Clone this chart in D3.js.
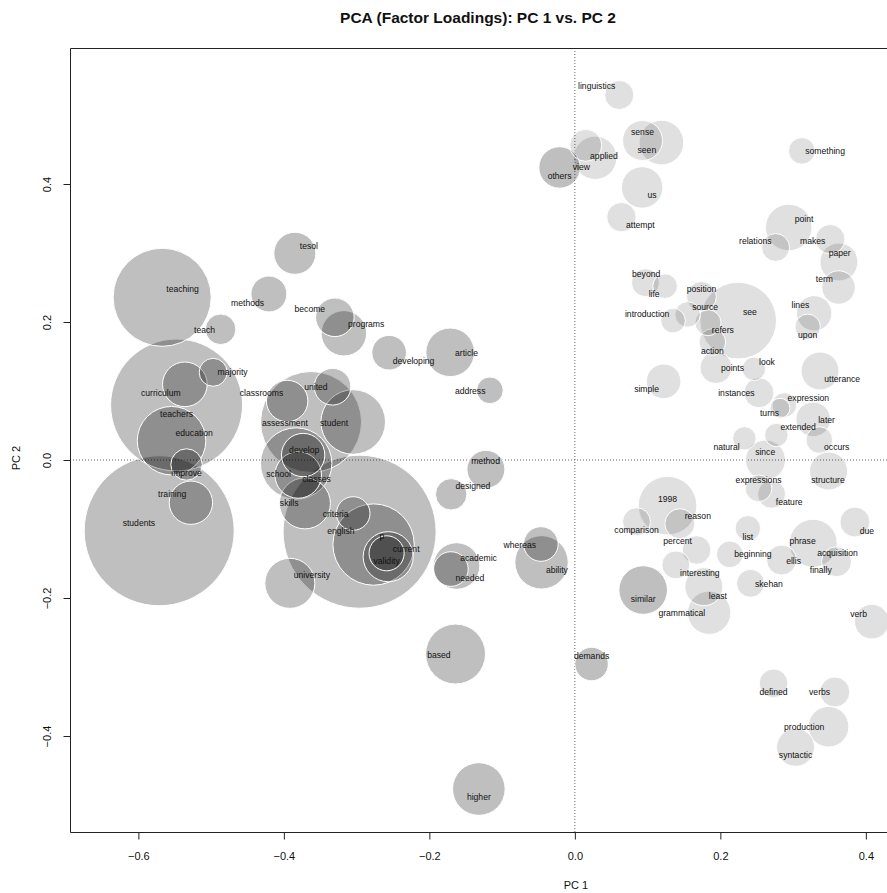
<!DOCTYPE html>
<html>
<head>
<meta charset="utf-8">
<script src="https://cdn.jsdelivr.net/npm/d3@7"></script>
<style>
  html, body { margin: 0; padding: 0; background: #fff; }
  svg { display: block; font-family: "Liberation Sans", Arial, Helvetica, sans-serif; }
</style>
</head>
<body>
<svg id="chart" width="887" height="893"></svg>
<script>
// Term loadings on the first two principal components.
const words = ["linguistics","sense","seen","applied","view","others","us","attempt","something","point","relations","makes","paper","term","beyond","life","position","source","introduction","see","refers","action","lines","upon","points","look","utterance","simple","instances","expression","turns","later","extended","occurs","natural","since","structure","expressions","feature","1998","reason","comparison","percent","list","beginning","phrase","ellis","acquisition","finally","due","interesting","least","similar","grammatical","skehan","verb","demands","defined","verbs","production","syntactic","tesol","teaching","methods","become","programs","teach","developing","article","address","majority","curriculum","teachers","education","improve","training","students","classrooms","united","assessment","student","develop","school","classes","skills","criteria","english","p","validity","current","university","method","designed","academic","needed","whereas","ability","based","higher"];

// Loading on PC 1 (bubble centre)
const pc1 = [0.061,0.093,0.119,0.028,0.015,-0.021,0.0925,0.064,0.312,0.294,0.276,0.351,0.363,0.3625,0.097,0.124,0.174,0.155,0.135,0.2245,0.183,0.189,0.329,0.320,0.194,0.246,0.337,0.122,0.253,0.288,0.282,0.3276,0.277,0.336,0.233,0.262,0.3487,0.2525,0.2704,0.1274,0.1443,0.0848,0.1673,0.2378,0.213,0.3276,0.2841,0.3597,0.338,0.385,0.1388,0.1773,0.0939,0.1846,0.2415,0.4082,0.023,0.2731,0.3574,0.3487,0.3034,-0.3849,-0.5673,-0.4206,-0.3299,-0.3175,-0.487,-0.2553,-0.1714,-0.1168,-0.4972,-0.5361,-0.5475,-0.5544,-0.5338,-0.5278,-0.5714,-0.3955,-0.3331,-0.3626,-0.3047,-0.3735,-0.3831,-0.3803,-0.3711,-0.3047,-0.2959,-0.2767,-0.2566,-0.2588,-0.3918,-0.1223,-0.17,-0.1626,-0.1704,-0.0467,-0.0458,-0.164,-0.132];

// Loading on PC 2 (bubble centre)
const pc2 = [0.529,0.463,0.460,0.438,0.456,0.424,0.395,0.352,0.448,0.337,0.308,0.320,0.287,0.250,0.257,0.252,0.237,0.211,0.202,0.202,0.199,0.171,0.2126,0.193,0.134,0.132,0.129,0.114,0.0975,0.0797,0.075,0.059,0.0362,0.029,0.0314,0.0,-0.016,-0.041,-0.0497,-0.0662,-0.0923,-0.0894,-0.1304,-0.099,-0.1367,-0.1207,-0.145,-0.1474,-0.159,-0.0899,-0.152,-0.1836,-0.1884,-0.2213,-0.1787,-0.2343,-0.2957,-0.3236,-0.3362,-0.3865,-0.4164,0.2996,0.2358,0.2406,0.2068,0.1836,0.1894,0.1555,0.1561,0.101,0.1271,0.1097,0.0797,0.028,-0.0065,-0.0619,-0.1025,0.0855,0.1062,0.0551,0.0551,0.0072,-0.0051,-0.0217,-0.0628,-0.0775,-0.1039,-0.1225,-0.1401,-0.1352,-0.1787,-0.0135,-0.0497,-0.1536,-0.158,-0.1217,-0.1483,-0.2812,-0.4768];

// Bubble radius, in PC 1 units
const weight = [0.020,0.0275,0.0307,0.0298,0.022,0.0285,0.0285,0.0202,0.0183,0.032,0.0192,0.0202,0.0261,0.023,0.0192,0.0169,0.0206,0.0175,0.0169,0.0527,0.0179,0.0183,0.0243,0.0175,0.022,0.0161,0.0261,0.0238,0.0206,0.0169,0.0137,0.0238,0.0161,0.0183,0.0161,0.0275,0.0261,0.0183,0.0192,0.0403,0.0206,0.0192,0.0197,0.0175,0.0183,0.033,0.0206,0.0206,0,0.0206,0.0192,0.0261,0.0334,0.0298,0.0192,0.0238,0.023,0.0197,0.0206,0.0279,0.0261,0.0289,0.0674,0.0247,0.0265,0.0312,0.021,0.0238,0.0334,0.0183,0.0192,0.0307,0.0907,0.0471,0.0216,0.0298,0.1031,0.0285,0.0252,0.0694,0.0444,0.0298,0.0491,0.032,0.0351,0.0231,0.1052,0.0559,0.0344,0.0241,0.0344,0.0261,0.0216,0.032,0.0238,0.0238,0.0367,0.0412,0.0362];

// Where each word label sits, in loading units
const labelPC1 = [0.030,0.093,0.099,0.040,0.009,-0.021,0.106,0.090,0.344,0.315,0.248,0.327,0.364,0.343,0.098,0.109,0.174,0.179,0.0994,0.2406,0.2034,0.189,0.310,0.320,0.2168,0.264,0.3675,0.0986,0.222,0.321,0.2676,0.346,0.307,0.360,0.2085,0.2616,0.348,0.2525,0.2946,0.1274,0.169,0.0848,0.1412,0.2378,0.2447,0.313,0.3006,0.3611,0.338,0.4014,0.1718,0.1966,0.0939,0.1471,0.2667,0.39,0.023,0.2731,0.3364,0.3152,0.3034,-0.3656,-0.5393,-0.4499,-0.3643,-0.2869,-0.509,-0.2217,-0.1489,-0.1439,-0.4705,-0.5691,-0.5475,-0.5233,-0.5338,-0.5535,-0.5993,-0.4307,-0.356,-0.3986,-0.3309,-0.3721,-0.4073,-0.3551,-0.3927,-0.3289,-0.3216,-0.2653,-0.2588,-0.2319,-0.3615,-0.1227,-0.1402,-0.1324,-0.1443,-0.0756,-0.0247,-0.1869,-0.132];
const labelPC2 = [0.542,0.475,0.449,0.441,0.425,0.411,0.384,0.341,0.448,0.349,0.317,0.318,0.300,0.262,0.270,0.240,0.248,0.222,0.212,0.2145,0.189,0.158,0.224,0.1816,0.1333,0.142,0.117,0.1025,0.097,0.0899,0.0677,0.0584,0.0478,0.0184,0.0193,0.0116,-0.029,-0.0286,-0.0609,-0.0565,-0.0807,-0.101,-0.1174,-0.112,-0.1362,-0.1174,-0.1464,-0.1343,-0.16,-0.103,-0.164,-0.1967,-0.2014,-0.2217,-0.1801,-0.2228,-0.2836,-0.3367,-0.3367,-0.3865,-0.428,0.3106,0.2478,0.228,0.2188,0.1971,0.1888,0.1439,0.1551,0.1,0.1271,0.0967,0.0667,0.0387,-0.0184,-0.0493,-0.0913,0.0967,0.1062,0.0536,0.0541,0.0145,-0.0203,-0.028,-0.0628,-0.0783,-0.1029,-0.1097,-0.1459,-0.129,-0.1667,-0.0019,-0.0372,-0.142,-0.171,-0.1236,-0.1599,-0.2822,-0.4884];

// Cluster membership of each word
const cluster = words.map((w, i) => (i >= 61 || w === "others" || w === "similar" || w === "demands") ? 1 : 2);

const xTicks = [-0.6, -0.4, -0.2, 0.0, 0.2, 0.4];
const yTicks = [-0.4, -0.2, 0.0, 0.2, 0.4];

(function draw() {
  const svg = d3.select("#chart");
  const pLeft = 70, pRight = 886, pTop = 48, pBottom = 832;

  const x = d3.scaleLinear().domain([-0.694, 0.4277]).range([pLeft, pRight]);
  const y = d3.scaleLinear().domain([-0.5391, 0.5971]).range([pBottom, pTop]);
  const radius = v => Math.abs(x(v) - x(0));

  const fillFor = { 1: "rgba(0,0,0,0.25)", 2: "rgba(0,0,0,0.12)" };

  svg.append("defs").append("clipPath").attr("id", "plotClip")
    .append("rect").attr("x", pLeft).attr("y", pTop)
    .attr("width", pRight - pLeft + 10).attr("height", pBottom - pTop);

  const plot = svg.append("g").attr("clip-path", "url(#plotClip)");

  // zero reference lines
  plot.append("line")
    .attr("x1", x(0)).attr("x2", x(0)).attr("y1", pTop).attr("y2", pBottom)
    .attr("stroke", "#666").attr("stroke-width", 1).attr("stroke-dasharray", "1,2");
  plot.append("line")
    .attr("x1", pLeft).attr("x2", pRight + 10).attr("y1", y(0)).attr("y2", y(0))
    .attr("stroke", "#666").attr("stroke-width", 1).attr("stroke-dasharray", "1,2");

  const rows = words.map((w, i) => ({
    word: w, pc1: pc1[i], pc2: pc2[i], size: weight[i],
    lx: labelPC1[i], ly: labelPC2[i], cluster: cluster[i]
  }));

  // larger bubbles first so smaller ones stay visible
  const drawOrder = rows.slice().sort((a, b) => b.size - a.size);

  plot.selectAll("circle.bubble")
    .data(drawOrder.filter(d => d.size > 0))
    .join("circle")
    .attr("class", "bubble")
    .attr("cx", d => x(d.pc1))
    .attr("cy", d => y(d.pc2))
    .attr("r", d => radius(d.size))
    .attr("fill", d => fillFor[d.cluster])
    .attr("stroke", "#fff")
    .attr("stroke-width", 1);

  plot.selectAll("text.word")
    .data(rows)
    .join("text")
    .attr("class", "word")
    .attr("x", d => x(d.lx))
    .attr("y", d => y(d.ly))
    .attr("dy", "0.35em")
    .attr("text-anchor", "middle")
    .attr("font-size", "8.6px")
    .attr("fill", "#111")
    .text(d => d.word);

  // frame
  svg.append("path")
    .attr("d", `M${pRight + 20},${pTop + 0.5}H${pLeft + 0.5}V${pBottom + 0.5}H${pRight + 20}`)
    .attr("fill", "none").attr("stroke", "#222").attr("stroke-width", 1);

  const fmt = d3.format(".1f");

  const xAxis = svg.append("g")
    .attr("transform", `translate(0,${pBottom + 0.5})`)
    .call(d3.axisBottom(x).tickValues(xTicks).tickFormat(fmt).tickSize(7));
  xAxis.select(".domain").remove();
  xAxis.selectAll(".tick line").attr("stroke", "#222");
  xAxis.selectAll(".tick text")
    .attr("y", 24).attr("dy", "0.35em")
    .attr("font-size", "11px").attr("fill", "#111")
    .attr("font-family", "'Liberation Sans', Arial, sans-serif");

  const yAxis = svg.append("g")
    .attr("transform", `translate(${pLeft + 0.5},0)`)
    .call(d3.axisLeft(y).tickValues(yTicks).tickFormat(fmt).tickSize(7));
  yAxis.select(".domain").remove();
  yAxis.selectAll(".tick line").attr("stroke", "#222");
  yAxis.selectAll(".tick text")
    .attr("x", 0).attr("y", -23.5).attr("dy", "0.35em")
    .attr("transform", "rotate(-90)")
    .attr("text-anchor", "middle")
    .attr("font-size", "11px").attr("fill", "#111")
    .attr("font-family", "'Liberation Sans', Arial, sans-serif");

  // titles
  svg.append("text")
    .attr("x", 478).attr("y", 18).attr("dy", "0.35em")
    .attr("text-anchor", "middle")
    .attr("font-size", "15.5px").attr("font-weight", "bold").attr("fill", "#111")
    .text("PCA (Factor Loadings): PC 1 vs. PC 2");

  svg.append("text")
    .attr("x", 576).attr("y", 885).attr("dy", "0.35em")
    .attr("text-anchor", "middle")
    .attr("font-size", "11px").attr("fill", "#111")
    .text("PC 1");

  svg.append("text")
    .attr("transform", "translate(16,458) rotate(-90)")
    .attr("dy", "0.35em")
    .attr("text-anchor", "middle")
    .attr("font-size", "11px").attr("fill", "#111")
    .text("PC 2");
})();
</script>
</body>
</html>
